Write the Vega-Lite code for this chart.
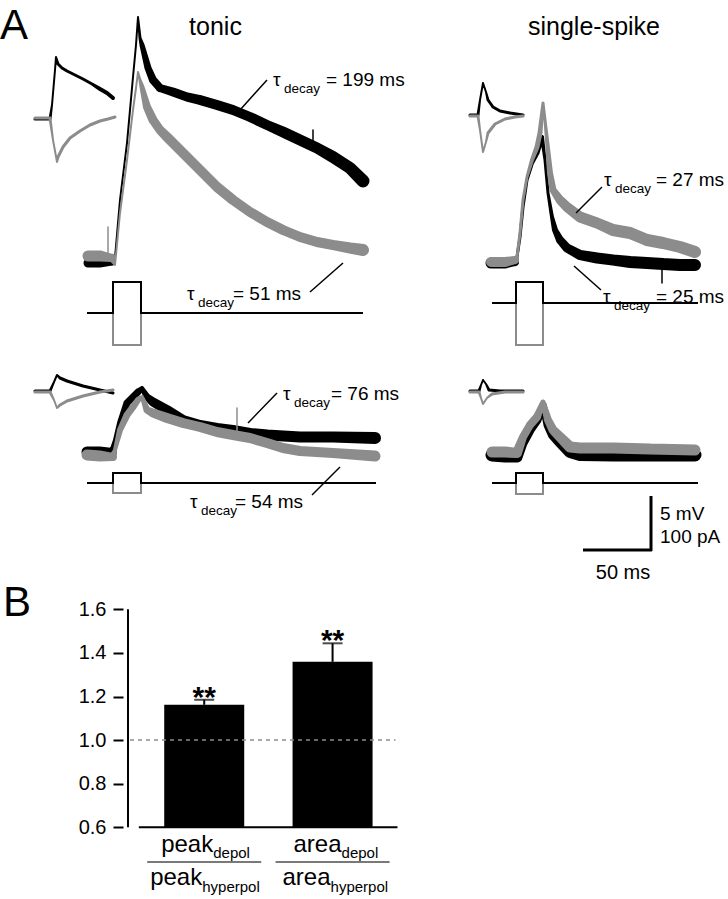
{
"$schema": "https://vega.github.io/schema/vega-lite/v6.json",
"width": 605, "height": 899, "padding": {"left": 123, "top": 0, "right": 0, "bottom": 0}, "autosize": {"type": "none"},
"background": "white",
"config": {"view": {"stroke": null}, "font": "Liberation Sans"},
"datasets": {
"tr": [
{"s":"t1i","c":"d","x":35,"y":119,"n":3},{"s":"t1i","c":"d","x":50,"y":119,"n":3},{"s":"t1i","c":"d","x":52,"y":105,"n":2},{"s":"t1i","c":"d","x":55,"y":70,"n":2},{"s":"t1i","c":"d","x":56,"y":57,"n":2},{"s":"t1i","c":"d","x":58,"y":64,"n":3},{"s":"t1i","c":"d","x":62,"y":68,"n":3},{"s":"t1i","c":"d","x":67,"y":71,"n":3},{"s":"t1i","c":"d","x":75,"y":75,"n":3},{"s":"t1i","c":"d","x":83,"y":79,"n":3},{"s":"t1i","c":"d","x":92,"y":84,"n":3},{"s":"t1i","c":"d","x":100,"y":89,"n":4},{"s":"t1i","c":"d","x":107,"y":93,"n":4},{"s":"t1i","c":"d","x":113,"y":98,"n":4},
{"s":"t1ih","c":"h","x":35,"y":118,"n":3},{"s":"t1ih","c":"h","x":50,"y":118,"n":3},{"s":"t1ih","c":"h","x":53,"y":140,"n":2},{"s":"t1ih","c":"h","x":57,"y":162,"n":2},{"s":"t1ih","c":"h","x":58,"y":157,"n":3},{"s":"t1ih","c":"h","x":63,"y":147,"n":3},{"s":"t1ih","c":"h","x":70,"y":138,"n":3},{"s":"t1ih","c":"h","x":80,"y":131,"n":3},{"s":"t1ih","c":"h","x":90,"y":125,"n":3},{"s":"t1ih","c":"h","x":100,"y":121,"n":3},{"s":"t1ih","c":"h","x":108,"y":119,"n":3},{"s":"t1ih","c":"h","x":115,"y":117,"n":3},
{"s":"t1m","c":"d","x":88,"y":263,"n":9},{"s":"t1m","c":"d","x":100,"y":263,"n":9},{"s":"t1m","c":"d","x":112,"y":262,"n":7},{"s":"t1m","c":"d","x":115,"y":258,"n":2},{"s":"t1m","c":"d","x":120,"y":200,"n":2},{"s":"t1m","c":"d","x":127,"y":143,"n":2},{"s":"t1m","c":"d","x":133,"y":77,"n":2},{"s":"t1m","c":"d","x":136,"y":45,"n":2},{"s":"t1m","c":"d","x":138,"y":17,"n":2},{"s":"t1m","c":"d","x":140,"y":38,"n":3},{"s":"t1m","c":"d","x":142,"y":45,"n":5},{"s":"t1m","c":"d","x":148,"y":68,"n":7},{"s":"t1m","c":"d","x":153,"y":80,"n":8},{"s":"t1m","c":"d","x":160,"y":88,"n":8},{"s":"t1m","c":"d","x":173,"y":92,"n":9},{"s":"t1m","c":"d","x":187,"y":97,"n":9},{"s":"t1m","c":"d","x":200,"y":100,"n":10},{"s":"t1m","c":"d","x":217,"y":105,"n":10},{"s":"t1m","c":"d","x":233,"y":110,"n":10},{"s":"t1m","c":"d","x":250,"y":117,"n":10},{"s":"t1m","c":"d","x":267,"y":125,"n":10},{"s":"t1m","c":"d","x":283,"y":132,"n":11},{"s":"t1m","c":"d","x":300,"y":140,"n":11},{"s":"t1m","c":"d","x":317,"y":148,"n":11},{"s":"t1m","c":"d","x":333,"y":157,"n":12},{"s":"t1m","c":"d","x":350,"y":168,"n":12},{"s":"t1m","c":"d","x":363,"y":181,"n":13},
{"s":"t1sp","c":"d","x":313,"y":148,"n":1.5},{"s":"t1sp","c":"d","x":313,"y":130,"n":1.5},
{"s":"t1mh","c":"h","x":88,"y":256,"n":11},{"s":"t1mh","c":"h","x":100,"y":256,"n":11},{"s":"t1mh","c":"h","x":112,"y":258,"n":8},{"s":"t1mh","c":"h","x":115,"y":265,"n":2},{"s":"t1mh","c":"h","x":120,"y":213,"n":2},{"s":"t1mh","c":"h","x":127,"y":160,"n":2},{"s":"t1mh","c":"h","x":133,"y":110,"n":2},{"s":"t1mh","c":"h","x":136,"y":88,"n":2},{"s":"t1mh","c":"h","x":138,"y":72,"n":2},{"s":"t1mh","c":"h","x":140,"y":80,"n":3},{"s":"t1mh","c":"h","x":142,"y":87,"n":5},{"s":"t1mh","c":"h","x":147,"y":107,"n":8},{"s":"t1mh","c":"h","x":153,"y":120,"n":9},{"s":"t1mh","c":"h","x":160,"y":130,"n":9},{"s":"t1mh","c":"h","x":167,"y":137,"n":10},{"s":"t1mh","c":"h","x":183,"y":153,"n":10},{"s":"t1mh","c":"h","x":200,"y":170,"n":10},{"s":"t1mh","c":"h","x":217,"y":187,"n":10},{"s":"t1mh","c":"h","x":233,"y":200,"n":10},{"s":"t1mh","c":"h","x":250,"y":212,"n":10},{"s":"t1mh","c":"h","x":267,"y":222,"n":10},{"s":"t1mh","c":"h","x":283,"y":230,"n":10},{"s":"t1mh","c":"h","x":300,"y":237,"n":10},{"s":"t1mh","c":"h","x":317,"y":242,"n":10},{"s":"t1mh","c":"h","x":333,"y":245,"n":10},{"s":"t1mh","c":"h","x":350,"y":248,"n":11},{"s":"t1mh","c":"h","x":363,"y":250,"n":12},
{"s":"t1sph","c":"h","x":108,"y":258,"n":1.5},{"s":"t1sph","c":"h","x":108,"y":227,"n":1.5},
{"s":"s1i","c":"d","x":470,"y":115,"n":3},{"s":"s1i","c":"d","x":478,"y":115,"n":3},{"s":"s1i","c":"d","x":480,"y":100,"n":2},{"s":"s1i","c":"d","x":483,"y":83,"n":2},{"s":"s1i","c":"d","x":486,"y":92,"n":2},{"s":"s1i","c":"d","x":488,"y":100,"n":3},{"s":"s1i","c":"d","x":493,"y":107,"n":3},{"s":"s1i","c":"d","x":500,"y":111,"n":3},{"s":"s1i","c":"d","x":510,"y":113,"n":3},{"s":"s1i","c":"d","x":523,"y":115,"n":3},
{"s":"s1ih","c":"h","x":470,"y":116,"n":3},{"s":"s1ih","c":"h","x":478,"y":116,"n":3},{"s":"s1ih","c":"h","x":480,"y":130,"n":2},{"s":"s1ih","c":"h","x":483,"y":152,"n":2},{"s":"s1ih","c":"h","x":486,"y":142,"n":2},{"s":"s1ih","c":"h","x":488,"y":133,"n":3},{"s":"s1ih","c":"h","x":495,"y":124,"n":3},{"s":"s1ih","c":"h","x":505,"y":119,"n":3},{"s":"s1ih","c":"h","x":515,"y":117,"n":3},{"s":"s1ih","c":"h","x":523,"y":116,"n":3},
{"s":"s1m","c":"d","x":491,"y":263,"n":11},{"s":"s1m","c":"d","x":505,"y":263,"n":11},{"s":"s1m","c":"d","x":515,"y":262,"n":8},{"s":"s1m","c":"d","x":517,"y":257,"n":3},{"s":"s1m","c":"d","x":520,"y":237,"n":3},{"s":"s1m","c":"d","x":523,"y":207,"n":3},{"s":"s1m","c":"d","x":527,"y":180,"n":3},{"s":"s1m","c":"d","x":532,"y":163,"n":4},{"s":"s1m","c":"d","x":537,"y":153,"n":5},{"s":"s1m","c":"d","x":540,"y":143,"n":5},{"s":"s1m","c":"d","x":542,"y":137,"n":4},{"s":"s1m","c":"d","x":545,"y":160,"n":3},{"s":"s1m","c":"d","x":548,"y":193,"n":3},{"s":"s1m","c":"d","x":552,"y":217,"n":4},{"s":"s1m","c":"d","x":555,"y":230,"n":6},{"s":"s1m","c":"d","x":560,"y":240,"n":8},{"s":"s1m","c":"d","x":567,"y":248,"n":9},{"s":"s1m","c":"d","x":580,"y":255,"n":10},{"s":"s1m","c":"d","x":597,"y":258,"n":11},{"s":"s1m","c":"d","x":613,"y":260,"n":11},{"s":"s1m","c":"d","x":630,"y":262,"n":12},{"s":"s1m","c":"d","x":647,"y":263,"n":12},{"s":"s1m","c":"d","x":663,"y":264,"n":12},{"s":"s1m","c":"d","x":680,"y":265,"n":12},{"s":"s1m","c":"d","x":695,"y":265,"n":12},
{"s":"s1sp","c":"d","x":662,"y":268,"n":1.5},{"s":"s1sp","c":"d","x":662,"y":283,"n":1.5},
{"s":"s1mh","c":"h","x":491,"y":262,"n":10},{"s":"s1mh","c":"h","x":505,"y":262,"n":10},{"s":"s1mh","c":"h","x":515,"y":260,"n":8},{"s":"s1mh","c":"h","x":517,"y":257,"n":3},{"s":"s1mh","c":"h","x":520,"y":233,"n":3},{"s":"s1mh","c":"h","x":523,"y":200,"n":3},{"s":"s1mh","c":"h","x":527,"y":177,"n":3},{"s":"s1mh","c":"h","x":532,"y":160,"n":4},{"s":"s1mh","c":"h","x":537,"y":147,"n":5},{"s":"s1mh","c":"h","x":540,"y":133,"n":5},{"s":"s1mh","c":"h","x":543,"y":103,"n":3},{"s":"s1mh","c":"h","x":545,"y":120,"n":3},{"s":"s1mh","c":"h","x":547,"y":140,"n":4},{"s":"s1mh","c":"h","x":550,"y":173,"n":6},{"s":"s1mh","c":"h","x":553,"y":190,"n":7},{"s":"s1mh","c":"h","x":560,"y":200,"n":9},{"s":"s1mh","c":"h","x":567,"y":207,"n":10},{"s":"s1mh","c":"h","x":580,"y":217,"n":11},{"s":"s1mh","c":"h","x":597,"y":223,"n":11},{"s":"s1mh","c":"h","x":613,"y":230,"n":12},{"s":"s1mh","c":"h","x":630,"y":233,"n":12},{"s":"s1mh","c":"h","x":647,"y":240,"n":12},{"s":"s1mh","c":"h","x":663,"y":243,"n":12},{"s":"s1mh","c":"h","x":680,"y":247,"n":12},{"s":"s1mh","c":"h","x":695,"y":252,"n":12},
{"s":"t2i","c":"d","x":35,"y":391,"n":3},{"s":"t2i","c":"d","x":50,"y":391,"n":3},{"s":"t2i","c":"d","x":54,"y":382,"n":2},{"s":"t2i","c":"d","x":57,"y":375,"n":2},{"s":"t2i","c":"d","x":60,"y":378,"n":3},{"s":"t2i","c":"d","x":67,"y":381,"n":3},{"s":"t2i","c":"d","x":83,"y":386,"n":3},{"s":"t2i","c":"d","x":100,"y":390,"n":3},{"s":"t2i","c":"d","x":113,"y":393,"n":3},
{"s":"t2ih","c":"h","x":35,"y":392,"n":3},{"s":"t2ih","c":"h","x":50,"y":392,"n":3},{"s":"t2ih","c":"h","x":54,"y":400,"n":2},{"s":"t2ih","c":"h","x":57,"y":408,"n":2},{"s":"t2ih","c":"h","x":60,"y":405,"n":3},{"s":"t2ih","c":"h","x":67,"y":401,"n":3},{"s":"t2ih","c":"h","x":83,"y":396,"n":3},{"s":"t2ih","c":"h","x":100,"y":392,"n":3},{"s":"t2ih","c":"h","x":113,"y":390,"n":3},
{"s":"t2m","c":"d","x":87,"y":452,"n":11},{"s":"t2m","c":"d","x":100,"y":452,"n":11},{"s":"t2m","c":"d","x":113,"y":452,"n":8},{"s":"t2m","c":"d","x":115,"y":440,"n":4},{"s":"t2m","c":"d","x":120,"y":423,"n":6},{"s":"t2m","c":"d","x":127,"y":403,"n":7},{"s":"t2m","c":"d","x":133,"y":397,"n":7},{"s":"t2m","c":"d","x":138,"y":392,"n":7},{"s":"t2m","c":"d","x":142,"y":388,"n":4},{"s":"t2m","c":"d","x":147,"y":397,"n":7},{"s":"t2m","c":"d","x":153,"y":402,"n":9},{"s":"t2m","c":"d","x":167,"y":410,"n":10},{"s":"t2m","c":"d","x":183,"y":420,"n":10},{"s":"t2m","c":"d","x":200,"y":425,"n":10},{"s":"t2m","c":"d","x":217,"y":428,"n":10},{"s":"t2m","c":"d","x":233,"y":430,"n":10},{"s":"t2m","c":"d","x":250,"y":433,"n":10},{"s":"t2m","c":"d","x":267,"y":435,"n":11},{"s":"t2m","c":"d","x":300,"y":437,"n":11},{"s":"t2m","c":"d","x":333,"y":437,"n":11},{"s":"t2m","c":"d","x":375,"y":438,"n":12},
{"s":"t2mh","c":"h","x":87,"y":455,"n":11},{"s":"t2mh","c":"h","x":100,"y":456,"n":11},{"s":"t2mh","c":"h","x":113,"y":457,"n":8},{"s":"t2mh","c":"h","x":115,"y":450,"n":4},{"s":"t2mh","c":"h","x":120,"y":430,"n":6},{"s":"t2mh","c":"h","x":127,"y":415,"n":7},{"s":"t2mh","c":"h","x":133,"y":407,"n":7},{"s":"t2mh","c":"h","x":138,"y":400,"n":6},{"s":"t2mh","c":"h","x":142,"y":397,"n":4},{"s":"t2mh","c":"h","x":147,"y":410,"n":7},{"s":"t2mh","c":"h","x":153,"y":413,"n":9},{"s":"t2mh","c":"h","x":167,"y":418,"n":10},{"s":"t2mh","c":"h","x":183,"y":423,"n":10},{"s":"t2mh","c":"h","x":200,"y":427,"n":10},{"s":"t2mh","c":"h","x":217,"y":432,"n":10},{"s":"t2mh","c":"h","x":233,"y":435,"n":10},{"s":"t2mh","c":"h","x":250,"y":438,"n":10},{"s":"t2mh","c":"h","x":267,"y":443,"n":10},{"s":"t2mh","c":"h","x":283,"y":448,"n":10},{"s":"t2mh","c":"h","x":300,"y":451,"n":10},{"s":"t2mh","c":"h","x":333,"y":453,"n":10},{"s":"t2mh","c":"h","x":375,"y":456,"n":11},
{"s":"t2sph","c":"h","x":237,"y":432,"n":1.5},{"s":"t2sph","c":"h","x":237,"y":408,"n":1.5},
{"s":"s2i","c":"d","x":470,"y":391,"n":3},{"s":"s2i","c":"d","x":479,"y":391,"n":3},{"s":"s2i","c":"d","x":481,"y":385,"n":2},{"s":"s2i","c":"d","x":483,"y":380,"n":2},{"s":"s2i","c":"d","x":486,"y":384,"n":2},{"s":"s2i","c":"d","x":489,"y":390,"n":3},{"s":"s2i","c":"d","x":500,"y":391,"n":3},{"s":"s2i","c":"d","x":523,"y":391,"n":3},
{"s":"s2ih","c":"h","x":470,"y":392,"n":3},{"s":"s2ih","c":"h","x":479,"y":392,"n":3},{"s":"s2ih","c":"h","x":481,"y":398,"n":2},{"s":"s2ih","c":"h","x":483,"y":404,"n":2},{"s":"s2ih","c":"h","x":487,"y":398,"n":2},{"s":"s2ih","c":"h","x":492,"y":394,"n":3},{"s":"s2ih","c":"h","x":505,"y":392,"n":3},{"s":"s2ih","c":"h","x":523,"y":392,"n":3},
{"s":"s2m","c":"d","x":492,"y":455,"n":13},{"s":"s2m","c":"d","x":505,"y":456,"n":13},{"s":"s2m","c":"d","x":517,"y":457,"n":11},{"s":"s2m","c":"d","x":523,"y":443,"n":9},{"s":"s2m","c":"d","x":530,"y":430,"n":9},{"s":"s2m","c":"d","x":537,"y":420,"n":9},{"s":"s2m","c":"d","x":543,"y":405,"n":7},{"s":"s2m","c":"d","x":548,"y":425,"n":9},{"s":"s2m","c":"d","x":553,"y":435,"n":10},{"s":"s2m","c":"d","x":560,"y":442,"n":11},{"s":"s2m","c":"d","x":570,"y":452,"n":12},{"s":"s2m","c":"d","x":580,"y":455,"n":12},{"s":"s2m","c":"d","x":613,"y":455,"n":13},{"s":"s2m","c":"d","x":650,"y":455,"n":13},{"s":"s2m","c":"d","x":695,"y":455,"n":13},
{"s":"s2mh","c":"h","x":492,"y":452,"n":11},{"s":"s2mh","c":"h","x":505,"y":452,"n":11},{"s":"s2mh","c":"h","x":517,"y":453,"n":10},{"s":"s2mh","c":"h","x":523,"y":437,"n":8},{"s":"s2mh","c":"h","x":530,"y":425,"n":8},{"s":"s2mh","c":"h","x":537,"y":417,"n":8},{"s":"s2mh","c":"h","x":543,"y":402,"n":5},{"s":"s2mh","c":"h","x":548,"y":420,"n":8},{"s":"s2mh","c":"h","x":553,"y":430,"n":9},{"s":"s2mh","c":"h","x":560,"y":437,"n":10},{"s":"s2mh","c":"h","x":570,"y":447,"n":11},{"s":"s2mh","c":"h","x":580,"y":448,"n":11},{"s":"s2mh","c":"h","x":613,"y":448,"n":11},{"s":"s2mh","c":"h","x":650,"y":449,"n":11},{"s":"s2mh","c":"h","x":695,"y":450,"n":11}
],
"cmd": [
{"s":"c1d","c":"d","x":87,"y":313},{"s":"c1d","c":"d","x":113,"y":313},{"s":"c1d","c":"d","x":113,"y":282},{"s":"c1d","c":"d","x":141,"y":282},{"s":"c1d","c":"d","x":141,"y":313},{"s":"c1d","c":"d","x":363,"y":313},
{"s":"c1h","c":"h","x":113,"y":313},{"s":"c1h","c":"h","x":113,"y":345},{"s":"c1h","c":"h","x":141,"y":345},{"s":"c1h","c":"h","x":141,"y":313},
{"s":"c2d","c":"d","x":492,"y":303},{"s":"c2d","c":"d","x":516,"y":303},{"s":"c2d","c":"d","x":516,"y":282},{"s":"c2d","c":"d","x":543,"y":282},{"s":"c2d","c":"d","x":543,"y":303},{"s":"c2d","c":"d","x":698,"y":303},
{"s":"c2h","c":"h","x":516,"y":303},{"s":"c2h","c":"h","x":516,"y":345},{"s":"c2h","c":"h","x":543,"y":345},{"s":"c2h","c":"h","x":543,"y":303},
{"s":"c3d","c":"d","x":87,"y":483},{"s":"c3d","c":"d","x":113,"y":483},{"s":"c3d","c":"d","x":113,"y":473},{"s":"c3d","c":"d","x":141,"y":473},{"s":"c3d","c":"d","x":141,"y":483},{"s":"c3d","c":"d","x":376,"y":483},
{"s":"c3h","c":"h","x":113,"y":483},{"s":"c3h","c":"h","x":113,"y":493},{"s":"c3h","c":"h","x":141,"y":493},{"s":"c3h","c":"h","x":141,"y":483},
{"s":"c4d","c":"d","x":492,"y":483},{"s":"c4d","c":"d","x":516,"y":483},{"s":"c4d","c":"d","x":516,"y":473},{"s":"c4d","c":"d","x":543,"y":473},{"s":"c4d","c":"d","x":543,"y":483},{"s":"c4d","c":"d","x":698,"y":483},
{"s":"c4h","c":"h","x":516,"y":483},{"s":"c4h","c":"h","x":516,"y":494},{"s":"c4h","c":"h","x":543,"y":494},{"s":"c4h","c":"h","x":543,"y":483}
],
"seg": [
{"k":"ptr","x":240,"y":110,"x2":267,"y2":80},
{"k":"ptr","x":310,"y":292,"x2":343,"y2":263},
{"k":"ptr","x":576,"y":213,"x2":602,"y2":187},
{"k":"ptr","x":574,"y":266,"x2":601,"y2":290},
{"k":"ptr","x":248,"y":423,"x2":277,"y2":393},
{"k":"ptr","x":312,"y":495,"x2":340,"y2":467},
{"k":"bar","x":651,"y":496,"x2":651,"y2":551},
{"k":"bar","x":583,"y":550,"x2":652,"y2":550}
],
"txt": [
{"k":"big","t":"A","x":0,"y":38.5},
{"k":"big","t":"B","x":3,"y":616},
{"k":"head","t":"tonic","x":215.5,"y":35},
{"k":"head","t":"single-spike","x":594,"y":35},
{"k":"main","t":"τ","x":273,"y":86},{"k":"main","t":"= 199 ms","x":326,"y":86},
{"k":"main","t":"τ","x":187,"y":300},{"k":"main","t":"= 51 ms","x":233,"y":300},
{"k":"main","t":"τ","x":604,"y":186},{"k":"main","t":"= 27 ms","x":656,"y":186},
{"k":"main","t":"τ","x":603,"y":303},{"k":"main","t":"= 25 ms","x":656,"y":303},
{"k":"main","t":"τ","x":283,"y":400},{"k":"main","t":"= 76 ms","x":331,"y":400},
{"k":"main","t":"τ","x":190,"y":508},{"k":"main","t":"= 54 ms","x":235,"y":508},
{"k":"main","t":"5 mV","x":660,"y":520},{"k":"main","t":"100 pA","x":660,"y":543},
{"k":"sub","t":"decay","x":284,"y":93},{"k":"sub","t":"decay","x":198,"y":307},{"k":"sub","t":"decay","x":615,"y":193},{"k":"sub","t":"decay","x":614,"y":310},{"k":"sub","t":"decay","x":294,"y":407},{"k":"sub","t":"decay","x":201,"y":515},
{"k":"ctr","t":"50 ms","x":623,"y":579}
],
"bars": [
{"idx":1,"mean":1.162,"upper":1.185,"sig":"**","num":"peak","den":"peak","nsub":"depol","dsub":"hyperpol"},
{"idx":2,"mean":1.359,"upper":1.444,"sig":"**","num":"area","den":"area","nsub":"depol","dsub":"hyperpol"}
]
},
"layer": [
{
"encoding": {
"x": {"field":"x","type":"quantitative","scale":{"domain":[123,728],"nice":false,"zero":false},"axis":null},
"y": {"field":"y","type":"quantitative","scale":{"domain":[0,899],"nice":false,"zero":false,"reverse":true},"axis":null}
},
"layer": [
{"data":{"name":"cmd"},"transform":[{"filter":"datum.c==='h'"}],"mark":{"type":"line","color":"#8c8c8c","strokeWidth":2},"encoding":{"detail":{"field":"s"},"order":{"value":null}}},
{"data":{"name":"cmd"},"transform":[{"filter":"datum.c==='d'"}],"mark":{"type":"line","color":"#000000","strokeWidth":2},"encoding":{"detail":{"field":"s"},"order":{"value":null}}},
{"data":{"name":"tr"},"transform":[{"filter":"datum.c==='d'"}],"mark":{"type":"trail","color":"#000000"},"encoding":{"detail":{"field":"s"},"order":{"value":null},"size":{"field":"n","type":"quantitative","scale":{"domain":[0,14],"range":[0,14]},"legend":null}}},
{"data":{"name":"tr"},"transform":[{"filter":"datum.c==='h'"}],"mark":{"type":"trail","color":"#8c8c8c"},"encoding":{"detail":{"field":"s"},"order":{"value":null},"size":{"field":"n","type":"quantitative","scale":{"domain":[0,14],"range":[0,14]},"legend":null}}},
{"data":{"name":"seg"},"transform":[{"filter":"datum.k==='ptr'"}],"mark":{"type":"rule","color":"#000000","strokeWidth":1.5},"encoding":{"x2":{"field":"x2"},"y2":{"field":"y2"}}},
{"data":{"name":"seg"},"transform":[{"filter":"datum.k==='bar'"}],"mark":{"type":"rule","color":"#000000","strokeWidth":3},"encoding":{"x2":{"field":"x2"},"y2":{"field":"y2"}}},
{"data":{"name":"txt"},"transform":[{"filter":"datum.k==='big'"}],"mark":{"type":"text","align":"left","baseline":"alphabetic","fontSize":42,"color":"#000000","font":"Liberation Sans"},"encoding":{"text":{"field":"t"}}},
{"data":{"name":"txt"},"transform":[{"filter":"datum.k==='head'"}],"mark":{"type":"text","align":"center","baseline":"alphabetic","fontSize":25,"color":"#000000","font":"Liberation Sans"},"encoding":{"text":{"field":"t"}}},
{"data":{"name":"txt"},"transform":[{"filter":"datum.k==='main'"}],"mark":{"type":"text","align":"left","baseline":"alphabetic","fontSize":19,"color":"#000000","font":"Liberation Sans"},"encoding":{"text":{"field":"t"}}},
{"data":{"name":"txt"},"transform":[{"filter":"datum.k==='sub'"}],"mark":{"type":"text","align":"left","baseline":"alphabetic","fontSize":13.5,"color":"#000000","font":"Liberation Sans"},"encoding":{"text":{"field":"t"}}},
{"data":{"name":"txt"},"transform":[{"filter":"datum.k==='ctr'"}],"mark":{"type":"text","align":"center","baseline":"alphabetic","fontSize":20,"color":"#000000","font":"Liberation Sans"},"encoding":{"text":{"field":"t"}}}
]
},
{
"data": {"name":"bars"},
"layer": [
{"mark":{"type":"bar","color":"#000000","width":80},"encoding":{
"x":{"field":"idx","type":"quantitative","scale":{"domain":[0.4061,5.0421],"nice":false,"zero":false},"axis":null},
"y":{"field":"mean","type":"quantitative","scale":{"domain":[0.2711,4.395],"nice":false,"zero":false},
"axis":{"orient":"left","values":[0.6,0.8,1.0,1.2,1.4,1.6],"format":".1f","domain":false,"grid":false,"ticks":true,"tickSize":10,"tickWidth":2,"tickColor":"#000000","labelFontSize":20,"labelFont":"Liberation Sans","labelColor":"#000000","labelPadding":7,"labelFlush":false,"labelOverlap":false,"title":null}},
"y2":{"datum":0.6}}},
{"data":{"values":[{}]},"mark":{"type":"rule","color":"#8c8c8c","strokeWidth":1.5,"strokeDash":[4,4]},"encoding":{"x":{"datum":0.4215,"type":"quantitative"},"x2":{"datum":2.4904},"y":{"datum":1.0,"type":"quantitative"}}},
{"mark":{"type":"rule","color":"#000000","strokeWidth":2},"encoding":{"x":{"field":"idx","type":"quantitative"},"y":{"field":"mean","type":"quantitative"},"y2":{"field":"upper"}}},
{"mark":{"type":"tick","orient":"horizontal","color":"#000000","size":20,"thickness":2},"encoding":{"x":{"field":"idx","type":"quantitative"},"y":{"field":"upper","type":"quantitative"}}},
{"mark":{"type":"text","align":"center","baseline":"alphabetic","dy":7,"fontSize":30,"fontWeight":"bold","color":"#000000","font":"Liberation Sans"},"encoding":{"x":{"field":"idx","type":"quantitative"},"y":{"field":"upper","type":"quantitative"},"text":{"field":"sig"}}},
{"data":{"values":[{}]},"mark":{"type":"rule","color":"#000000","strokeWidth":2},"encoding":{"x":{"datum":0.4061,"type":"quantitative"},"y":{"datum":0.6,"type":"quantitative"},"y2":{"datum":1.6}}},
{"data":{"values":[{}]},"mark":{"type":"rule","color":"#000000","strokeWidth":2},"encoding":{"x":{"datum":0.4904,"type":"quantitative"},"x2":{"datum":2.5057},"y":{"datum":0.6,"type":"quantitative"}}},
{"mark":{"type":"tick","orient":"horizontal","color":"#000000","size":114,"thickness":1.5},"encoding":{"x":{"field":"idx","type":"quantitative"},"y":{"datum":0.441,"type":"quantitative"}}},
{"mark":{"type":"text","align":"right","baseline":"alphabetic","dx":9,"dy":25,"fontSize":24,"color":"#000000","font":"Liberation Sans"},"encoding":{"x":{"field":"idx","type":"quantitative"},"y":{"datum":0.6,"type":"quantitative"},"text":{"field":"num"}}},
{"mark":{"type":"text","align":"left","baseline":"alphabetic","dx":9,"dy":31,"fontSize":15,"color":"#000000","font":"Liberation Sans"},"encoding":{"x":{"field":"idx","type":"quantitative"},"y":{"datum":0.6,"type":"quantitative"},"text":{"field":"nsub"}}},
{"mark":{"type":"text","align":"right","baseline":"alphabetic","dx":-2,"dy":58,"fontSize":24,"color":"#000000","font":"Liberation Sans"},"encoding":{"x":{"field":"idx","type":"quantitative"},"y":{"datum":0.6,"type":"quantitative"},"text":{"field":"den"}}},
{"mark":{"type":"text","align":"left","baseline":"alphabetic","dx":-2,"dy":65,"fontSize":15,"color":"#000000","font":"Liberation Sans"},"encoding":{"x":{"field":"idx","type":"quantitative"},"y":{"datum":0.6,"type":"quantitative"},"text":{"field":"dsub"}}}
]
}
],
"resolve": {"scale": {"x":"independent","y":"independent"}}
}
